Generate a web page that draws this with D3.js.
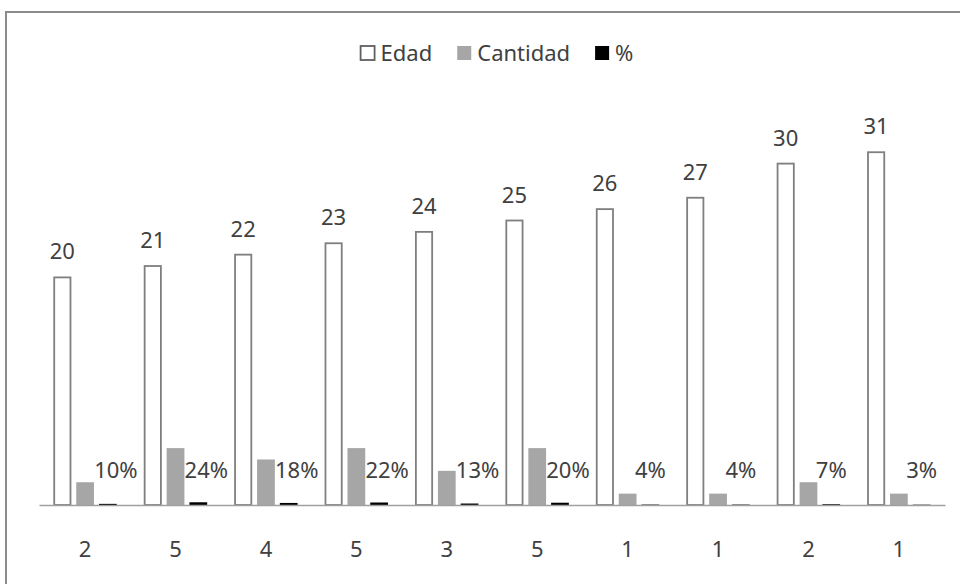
<!DOCTYPE html>
<html><head><meta charset="utf-8">
<script src="https://cdn.jsdelivr.net/npm/d3@7"></script>
<style>
html,body{margin:0;padding:0;background:#fff;}
svg{display:block;}
text{font-family:"Noto Sans",sans-serif;fill:#404040;}
</style></head>
<body>
<svg id="chart" width="960" height="584"></svg>
<script>
const categories = ["2","5","4","5","3","5","1","1","2","1"];
const edad = [20,21,22,23,24,25,26,27,30,31];
const cantidad = [2,5,4,5,3,5,1,1,2,1];
const pct = [0.10,0.24,0.18,0.22,0.13,0.20,0.04,0.04,0.07,0.03];
const pctLabels = ["10%","24%","18%","22%","13%","20%","4%","4%","7%","3%"];
const seriesNames = ["Edad","Cantidad","%"];

const svg = d3.select("#chart");
const W = 960, H = 584;

// frame
svg.append("rect").attr("x",6).attr("y",12).attr("width",W).attr("height",H)
  .attr("fill","#fff").attr("stroke","#8c8c8c").attr("stroke-width",2);

const baseY = 505;
const y = d3.scaleLinear().domain([0,35]).range([baseY, baseY - 35*11.38]);
const x0 = d3.scaleBand().domain(d3.range(categories.length)).range([39,945])
  .paddingInner(0.3).paddingOuter(0.16);
const x1 = d3.scaleBand().domain(seriesNames).range([0, x0.bandwidth()]).paddingInner(0.22);

const series = [
  {name:"Edad", values:edad, fill:"#ffffff", stroke:"#7f7f7f"},
  {name:"Cantidad", values:cantidad, fill:"#a6a6a6", stroke:"none"},
  {name:"%", values:pct, fill:"#000000", stroke:"none"}
];

const g = svg.append("g");
series.forEach(s => {
  g.selectAll(null).data(s.values).enter().append("rect")
    .attr("x",(d,i)=>x0(i)+x1(s.name) + (s.stroke!=="none"?0.75:0))
    .attr("y",d=>y(d))
    .attr("width",x1.bandwidth() - (s.stroke!=="none"?1.5:0))
    .attr("height",d=>baseY - y(d))
    .attr("fill",s.fill)
    .attr("stroke",s.stroke)
    .attr("stroke-width",1.8);
});

// x axis
const xAxis = d3.axisBottom(x0).tickSize(0).tickPadding(0).tickFormat(i=>categories[i]);
const ax = svg.append("g").attr("transform",`translate(0,${baseY})`).call(xAxis);
ax.select(".domain").attr("stroke","#a0a0a0").attr("stroke-width",1.5);
ax.selectAll("text").attr("font-size",22).attr("dy",0).attr("y",52)
  .style("font-family",'"Noto Sans",sans-serif').attr("fill","#404040");

// Edad labels
g.selectAll(null).data(edad).enter().append("text")
  .attr("x",(d,i)=>x0(i)+x1("Edad")+x1.bandwidth()/2)
  .attr("y",d=>y(d)-18)
  .attr("text-anchor","middle").attr("font-size",22)
  .text(d=>d);

// % labels
g.selectAll(null).data(pctLabels).enter().append("text")
  .attr("x",(d,i)=>x0(i)+x1("%")+x1.bandwidth()/2 + (d.length>2?8:0))
  .attr("y",478)
  .attr("text-anchor","middle").attr("font-size",22)
  .text(d=>d);

// legend
const leg = svg.append("g");
const legendColors = [{f:"#fff",s:"#606060"},{f:"#a6a6a6",s:"none"},{f:"#000",s:"none"}];
let lx = 0;
const gapItem = 24;
seriesNames.forEach((n,i)=>{
  const it = leg.append("g");
  it.append("rect").attr("x",1).attr("y",-15).attr("width",14).attr("height",14)
    .attr("fill",legendColors[i].f).attr("stroke",legendColors[i].s).attr("stroke-width",1.8);
  const t = it.append("text").attr("x",21).attr("y",0).attr("font-size",22).text(n);
  const w = 21 + t.node().getComputedTextLength();
  it.attr("transform",`translate(${lx},0)`);
  lx += w + gapItem;
});
const totalW = lx - gapItem;
leg.attr("transform",`translate(${496.5 - totalW/2},61)`);
</script>
</body></html>
